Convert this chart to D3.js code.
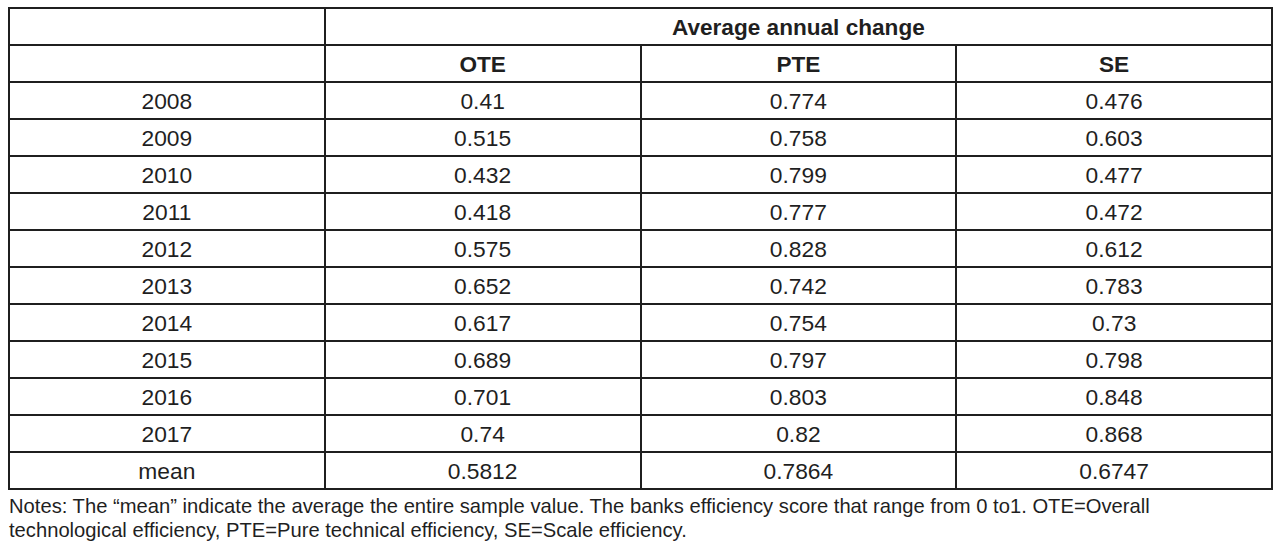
<!DOCTYPE html>
<html><head><meta charset="utf-8">
<script src="https://cdn.jsdelivr.net/npm/d3@7"></script>
<style>body{margin:0;background:#fff;}svg{display:block;}</style>
</head><body>
<svg id="c" width="1285" height="552"></svg>
<script>
const groupTitle = "Average annual change";
const columns = ["OTE", "PTE", "SE"];
const years = ["2008","2009","2010","2011","2012","2013","2014","2015","2016","2017","mean"];
const OTE = ["0.41","0.515","0.432","0.418","0.575","0.652","0.617","0.689","0.701","0.74","0.5812"];
const PTE = ["0.774","0.758","0.799","0.777","0.828","0.742","0.754","0.797","0.803","0.82","0.7864"];
const SE  = ["0.476","0.603","0.477","0.472","0.612","0.783","0.73","0.798","0.848","0.868","0.6747"];
const notes = [
  "Notes: The \u201cmean\u201d indicate the average the entire sample value. The banks efficiency score that range from 0 to1. OTE=Overall",
  "technological efficiency, PTE=Pure technical efficiency, SE=Scale efficiency."
];

(function(){
const svg = d3.select("#c");
const font = "'Liberation Sans', Arial, sans-serif";
const ink = "#1f1f1f";
const left = 9, right = 1272, tableTop = 8, rowH = 37;
const nRows = 2 + years.length;
const x = d3.scaleLinear().domain([0, 4]).range([left, right]);
const y = d3.scaleLinear().domain([0, nRows]).range([tableTop, tableTop + nRows * rowH]);
const series = [OTE, PTE, SE];

const g = svg.append("g").attr("shape-rendering", "crispEdges");
g.selectAll("line.h").data(d3.range(nRows + 1)).join("line")
  .attr("x1", left - 1).attr("x2", right + 1)
  .attr("y1", d => Math.round(y(d))).attr("y2", d => Math.round(y(d)))
  .attr("stroke", ink).attr("stroke-width", 2);
[0, 1, 4].forEach(c => g.append("line").attr("x1", Math.round(x(c))).attr("x2", Math.round(x(c)))
  .attr("y1", y(0)).attr("y2", y(nRows)).attr("stroke", ink).attr("stroke-width", 2));
[2, 3].forEach(c => g.append("line").attr("x1", Math.round(x(c))).attr("x2", Math.round(x(c)))
  .attr("y1", y(1)).attr("y2", y(nRows)).attr("stroke", ink).attr("stroke-width", 2));

const t = svg.append("g").attr("font-family", font).attr("fill", ink).attr("text-anchor", "middle");
t.append("text").attr("x", (x(1) + x(4)) / 2).attr("y", (y(0) + y(1)) / 2).attr("dy", "0.36em")
  .attr("font-size", 22.6).attr("font-weight", "bold").text(groupTitle);
t.selectAll("text.col").data(columns).join("text").attr("class", "col")
  .attr("x", (d, i) => (x(i + 1) + x(i + 2)) / 2).attr("y", (y(1) + y(2)) / 2).attr("dy", "0.36em")
  .attr("font-size", 22.6).attr("font-weight", "bold").text(d => d);
t.selectAll("text.yr").data(years).join("text").attr("class", "yr")
  .attr("x", (x(0) + x(1)) / 2).attr("y", (d, i) => (y(i + 2) + y(i + 3)) / 2).attr("dy", "0.36em")
  .attr("font-size", 22.8).text(d => d);
series.forEach((s, c) => {
  t.selectAll("text.v" + c).data(s).join("text").attr("class", "v" + c)
    .attr("x", (x(c + 1) + x(c + 2)) / 2).attr("y", (d, i) => (y(i + 2) + y(i + 3)) / 2).attr("dy", "0.36em")
    .attr("font-size", 22.8).text(d => d);
});
svg.append("g").attr("font-family", font).attr("fill", ink).attr("font-size", 20.2)
  .selectAll("text").data(notes).join("text")
  .attr("x", left).attr("y", (d, i) => 513 + i * 24).text(d => d);
})();
</script>
</body></html>
